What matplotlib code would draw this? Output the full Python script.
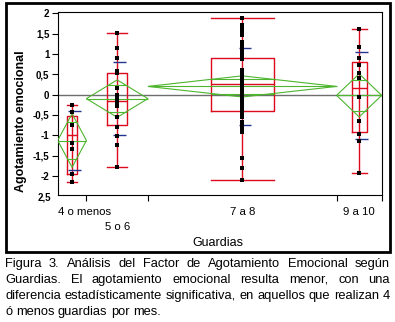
import numpy as np
import matplotlib
matplotlib.use("Agg")
import matplotlib.pyplot as plt
from matplotlib.patches import Rectangle, Polygon

plt.rcParams['font.family'] = ['Liberation Sans', 'DejaVu Sans']

# data
groups = ['4 o menos', '5 o 6', '7 a 8', '9 a 10']
pts_4menos = [-0.25, -0.44, -0.75, -1.19, -1.33, -1.95, -2.16]
pts_5o6 = [1.52, 1.14, 0.91, 0.59, 0.54, 0.15, -0.02, -0.12, -0.18, -0.27,
           -0.54, -0.81, -1.03, -1.23, -1.77]
pts_7a8 = [1.88, 1.70, 1.66, 1.62, 1.58, 1.55, 1.46, 1.30, 1.22, 1.13, 1.08,
           1.03, 0.98, 0.93, 0.87, 0.60, 0.52, 0.47, 0.42, 0.37, 0.33, 0.25,
           0.20, 0.18, 0.14, 0.10, 0.06, 0.02, -0.02, -0.05, -0.13, -0.18,
           -0.22, -0.30, -0.34, -0.38, -0.42, -0.46, -0.54, -0.67, -0.75,
           -0.83, -0.93, -1.56, -1.81, -2.10]
pts_9a10 = [1.60, 1.16, 0.90, 0.72, 0.54, 0.40, -0.05, -0.65, -0.96, -1.13, -1.93]
points = [pts_4menos, pts_5o6, pts_7a8, pts_9a10]

q1 = [-1.95, -0.74, -0.40, -0.91]
medians = [-0.99, -0.16, 0.25, 0.15]
q3 = [-0.52, 0.54, 0.89, 0.81]
means = [-1.13, -0.10, 0.20, -0.02]
sds = [0.72, 0.89, 0.95, 1.07]
ci95 = [0.66, 0.46, 0.26, 0.53]
grand_mean = 0.0

yticks = [2, 1.5, 1, 0.5, 0, -0.5, -1, -1.5, -2, -2.5]
ytick_labels = ['2', '1,5', '1', '0,5', '0', '-0,5', '-1', '-1,5', '-2', '2,5']

caption = ["Figura 3. Análisis del Factor de Agotamiento Emocional según",
           "Guardias. El agotamiento emocional resulta menor, con una",
           "diferencia estadísticamente significativa, en aquellos que realizan 4",
           "ó menos guardias por mes."]

RED = '#DD0A1E'
BLUE = '#23368F'
GREEN = '#4DB52E'

W, H = 395, 322
fig = plt.figure(figsize=(W / 100, H / 100), dpi=100)
ax = fig.add_axes([57.7 / W, 1 - 195 / H, 324 / W, 183 / H])

n = np.array([len(p) for p in points])
edges = np.concatenate([[0], np.cumsum(n)])
centers = (edges[:-1] + edges[1:]) / 2

ax.axhline(grand_mean, color='#6E6E6E', lw=1, zorder=1)

stats = []
for i in range(4):
    stats.append(dict(med=medians[i], q1=q1[i], q3=q3[i],
                      whislo=min(points[i]), whishi=max(points[i])))
ax.bxp(stats, positions=centers, widths=n / 3, capwidths=n / 3,
       showfliers=False, manage_ticks=False,
       boxprops=dict(color=RED, lw=1), medianprops=dict(color=RED, lw=1),
       whiskerprops=dict(color=RED, lw=1), capprops=dict(color=RED, lw=1))
ax.vlines(centers, q1, q3, color=RED, lw=1, zorder=2)

for i in range(4):
    c, m, h = centers[i], means[i], ci95[i]
    e0, e1 = edges[i], edges[i + 1]
    ax.add_patch(Polygon([(e0, m), (c, m + h), (e1, m), (c, m - h)],
                         closed=True, fill=False, edgecolor=GREEN, lw=0.8, zorder=3))
    ax.hlines(m, e0, e1, color=GREEN, lw=0.8, zorder=3)
    ax.hlines([m + h / np.sqrt(2), m - h / np.sqrt(2)], c - n[i] / 6, c + n[i] / 6,
              color=GREEN, lw=0.8, zorder=3)
    ax.hlines([m + sds[i], m - sds[i]], c + 0.6 - 1.5, c + 0.6 + 1.5,
              color=BLUE, lw=1, zorder=3)
    ax.plot([c] * len(points[i]), points[i], 's', color='black', ms=2.3, mew=0,
            ls='none', zorder=4)

ax.set_xlim(0, edges[-1])
ax.set_ylim(-2.47, 2.03)
ax.set_yticks(yticks[:-1])
ax.set_yticklabels(ytick_labels[:-1], fontsize=7, fontweight='bold')
ax.set_xticks(edges[1:])
ax.set_xticklabels([])
ax.tick_params(axis='both', length=4, width=0.8, direction='out', pad=2)
for s in ax.spines.values():
    s.set_linewidth(0.8)

# bottom tick label as drawn in the original
fig.text(51 / W, 1 - 197 / H, ytick_labels[-1], fontsize=7, fontweight='bold',
         ha='right', va='center')

# group labels
xt = ax.get_xaxis_transform()
ax.text(0, -0.095, groups[0], transform=xt, ha='left', va='center', fontsize=8.2)
ax.text(centers[1], -0.177, groups[1], transform=xt, ha='center', va='center', fontsize=8.2)
ax.text(centers[2], -0.095, groups[2], transform=xt, ha='center', va='center', fontsize=8.2)
ax.text(centers[3], -0.095, groups[3], transform=xt, ha='center', va='center', fontsize=8.2)
fig.text(218 / W, 1 - 243 / H, 'Guardias', ha='center', va='center', fontsize=9)
fig.text(21 / W, 1 - 121 / H, 'Agotamiento emocional', rotation=90,
         ha='center', va='center', fontsize=9, fontweight='bold')

# outer frame
fig.add_artist(Rectangle((5.5 / W, 1 - 252 / H), 384 / W, 249 / H,
                         transform=fig.transFigure, fill=False,
                         edgecolor='black', lw=2))

# justified caption
r = fig.canvas.get_renderer()
x0, x1 = 5, 390
base = [267, 283, 299, 315]
for k, line in enumerate(caption):
    words = line.split(' ')
    objs = [fig.text(0, 1 - base[k] / H, w, fontsize=9.3, va='baseline', ha='left')
            for w in words]
    widths = [o.get_window_extent(r).width for o in objs]
    if k == len(caption) - 1:
        gap = 0.278 * 9.3 * 100 / 72
    else:
        gap = (x1 - x0 - sum(widths)) / (len(words) - 1)
    x = x0
    for o, w in zip(objs, widths):
        o.set_x(x / W)
        x += w + gap

fig.savefig('out.png', dpi=100)
